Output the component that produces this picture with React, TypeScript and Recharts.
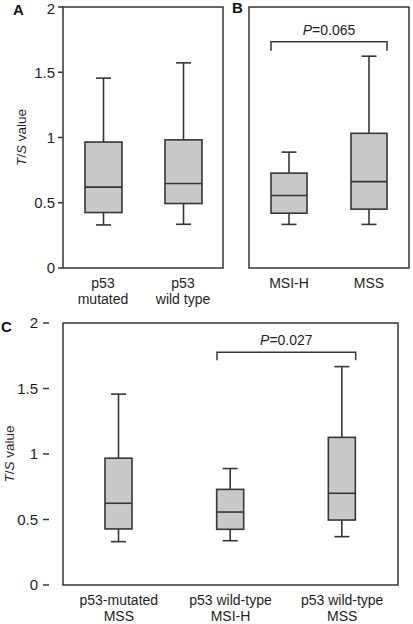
import React from 'react';
import { BarChart, Bar, XAxis, YAxis, ReferenceArea, ReferenceLine } from 'recharts';

const FONT = '"Liberation Sans", Arial, Helvetica, sans-serif';
const INK = '#363636';
const TEXT = '#1e1e1e';
const FILL = '#c9c9c9';

// panel A: p53 status
const panelACategories = ['p53\nmutated', 'p53\nwild type'];
const panelAMin = [0.33, 0.335];
const panelAQ1 = [0.425, 0.494];
const panelAMedian = [0.62, 0.647];
const panelAQ3 = [0.965, 0.982];
const panelAMax = [1.455, 1.572];

// panel B: MSI status
const panelBCategories = ['MSI-H', 'MSS'];
const panelBMin = [0.334, 0.334];
const panelBQ1 = [0.42, 0.451];
const panelBMedian = [0.555, 0.662];
const panelBQ3 = [0.727, 1.032];
const panelBMax = [0.888, 1.623];
const panelBPValue = '=0.065';
const panelBBracket = 1.734;

// panel C: combined
const panelCCategories = ['p53-mutated\nMSS', 'p53 wild-type\nMSI-H', 'p53 wild-type\nMSS'];
const panelCMin = [0.331, 0.338, 0.369];
const panelCQ1 = [0.428, 0.425, 0.496];
const panelCMedian = [0.624, 0.557, 0.7];
const panelCQ3 = [0.968, 0.73, 1.127];
const panelCMax = [1.457, 0.889, 1.667];
const panelCPValue = '=0.027';
const panelCBracket = 1.776;

const yTicks = [0, 0.5, 1, 1.5, 2];

const buildRows = (cats: string[], min: number[], q1: number[], med: number[], q3: number[], max: number[]) =>
  cats.map((name, i) => ({
    name,
    min: min[i],
    q1: q1[i],
    median: med[i],
    q3: q3[i],
    max: max[i],
    range: [min[i], max[i]],
  }));

const rowsA = buildRows(panelACategories, panelAMin, panelAQ1, panelAMedian, panelAQ3, panelAMax);
const rowsB = buildRows(panelBCategories, panelBMin, panelBQ1, panelBMedian, panelBQ3, panelBMax);
const rowsC = buildRows(panelCCategories, panelCMin, panelCQ1, panelCMedian, panelCQ3, panelCMax);

// box + whiskers drawn inside the min..max range bar
const makeBox = (capWidth: number) => (props: any) => {
  const { x, y, width, height, payload } = props;
  const { min, q1, median, q3, max } = payload;
  const toY = (v: number) => y + ((max - v) / (max - min)) * height;
  const cx = x + width / 2;
  const line = { stroke: INK, strokeWidth: 1.6 };
  return (
    <g>
      <line x1={cx} x2={cx} y1={toY(max)} y2={toY(q3)} {...line} />
      <line x1={cx} x2={cx} y1={toY(q1)} y2={toY(min)} {...line} />
      <line x1={cx - capWidth / 2} x2={cx + capWidth / 2} y1={toY(max)} y2={toY(max)} {...line} />
      <line x1={cx - capWidth / 2} x2={cx + capWidth / 2} y1={toY(min)} y2={toY(min)} {...line} />
      <rect x={x} y={toY(q3)} width={width} height={toY(q1) - toY(q3)} fill={FILL} {...line} />
      <line x1={x} x2={x + width} y1={toY(median)} y2={toY(median)} {...line} />
    </g>
  );
};

const makeBracket = (half: number, drop: number, value: string) => (props: any) => {
  const { x1, x2, y1 } = props;
  const left = x1 - half;
  const right = x2 + half;
  return (
    <g>
      <path d={`M${left},${y1 + drop}V${y1}H${right}V${y1 + drop}`} fill="none" stroke={INK} strokeWidth={1.5} />
      <text x={(left + right) / 2} y={y1 - 7} textAnchor="middle" fill={TEXT} fontSize={14} fontFamily={FONT}>
        <tspan fontStyle="italic">P</tspan>
        {value}
      </text>
    </g>
  );
};

const CategoryTick = (props: any) => {
  const { x, y, payload } = props;
  const lines = String(payload.value).split('\n');
  return (
    <text x={x} y={y} textAnchor="middle" fill={TEXT} fontSize={14} fontFamily={FONT}>
      {lines.map((l, i) => (
        <tspan key={i} x={x} dy={i === 0 ? 20 : 16}>
          {l}
        </tspan>
      ))}
    </text>
  );
};

const yLabel = (cx: number) => (props: any) => {
  const vb = props.viewBox || { y: 0, height: 0 };
  const cy = vb.y + vb.height / 2;
  return (
    <text
      x={cx}
      y={cy}
      transform={`rotate(-90, ${cx}, ${cy})`}
      textAnchor="middle"
      dominantBaseline="central"
      fill={TEXT}
      fontSize={13.5}
      fontFamily={FONT}
    >
      <tspan fontStyle="italic">T</tspan>/<tspan fontStyle="italic">S</tspan> value
    </text>
  );
};

const tickStyle = { fill: TEXT, fontSize: 15, fontFamily: FONT };
const letterStyle: React.CSSProperties = {
  position: 'absolute',
  fontFamily: FONT,
  fontWeight: 'bold',
  fontSize: 15,
  lineHeight: '15px',
  color: '#111',
};

export default function App() {
  return (
    <div style={{ position: 'absolute', left: 0, top: 0, width: 413, height: 624, background: '#fff' }}>
      <div style={{ position: 'absolute', left: 0, top: 0 }}>
        <BarChart width={230} height={310} data={rowsA} margin={{ top: 7, right: 7, left: 0, bottom: 0 }}>
          <XAxis dataKey="name" height={42} axisLine={false} tickLine={false} tickSize={0} tickMargin={0} interval={0} tick={<CategoryTick />} />
          <YAxis
            type="number"
            domain={[0, 2]}
            ticks={yTicks}
            width={63}
            axisLine={false}
            tickSize={5}
            tickMargin={3}
            tickLine={{ stroke: INK, strokeWidth: 1.5 }}
            tick={tickStyle}
            label={{ content: yLabel(21) }}
          />
          <ReferenceArea y1={0} y2={2} fill="none" stroke={INK} strokeWidth={1.5} />
          <Bar dataKey="range" barSize={37} isAnimationActive={false} shape={makeBox(15)} />
        </BarChart>
      </div>

      <div style={{ position: 'absolute', left: 230, top: 0 }}>
        <BarChart width={183} height={310} data={rowsB} margin={{ top: 7, right: 4, left: 19, bottom: 0 }}>
          <XAxis dataKey="name" height={42} axisLine={false} tickLine={false} tickSize={0} tickMargin={0} interval={0} tick={<CategoryTick />} />
          <YAxis type="number" domain={[0, 2]} hide />
          <ReferenceArea y1={0} y2={2} fill="none" stroke={INK} strokeWidth={1.5} />
          <Bar dataKey="range" barSize={36} isAnimationActive={false} shape={makeBox(15)} />
          <ReferenceLine
            segment={[
              { x: panelBCategories[0], y: panelBBracket },
              { x: panelBCategories[1], y: panelBBracket },
            ]}
            shape={makeBracket(18, 9, panelBPValue)}
          />
        </BarChart>
      </div>

      <div style={{ position: 'absolute', left: 0, top: 310 }}>
        <BarChart width={413} height={314} data={rowsC} margin={{ top: 13, right: 3, left: 0, bottom: 0 }}>
          <XAxis
            dataKey="name"
            height={39}
            padding={{ left: 14, right: 12 }}
            axisLine={false}
            tickLine={false}
            tickSize={0}
            tickMargin={0}
            interval={0}
            tick={<CategoryTick />}
          />
          <YAxis
            type="number"
            domain={[0, 2]}
            ticks={yTicks}
            width={49}
            axisLine={false}
            tickSize={6}
            tickMargin={5}
            tickLine={{ stroke: INK, strokeWidth: 1.5 }}
            tick={tickStyle}
            label={{ content: yLabel(9) }}
          />
          <ReferenceArea y1={0} y2={2} fill="none" stroke={INK} strokeWidth={1.5} />
          <Bar dataKey="range" barSize={27} isAnimationActive={false} shape={makeBox(15)} />
          <ReferenceLine
            segment={[
              { x: panelCCategories[1], y: panelCBracket },
              { x: panelCCategories[2], y: panelCBracket },
            ]}
            shape={makeBracket(13.5, 8, panelCPValue)}
          />
        </BarChart>
      </div>

      <div style={{ ...letterStyle, left: 13, top: 2 }}>A</div>
      <div style={{ ...letterStyle, left: 232, top: 0 }}>B</div>
      <div style={{ ...letterStyle, left: 1, top: 319 }}>C</div>
    </div>
  );
}
